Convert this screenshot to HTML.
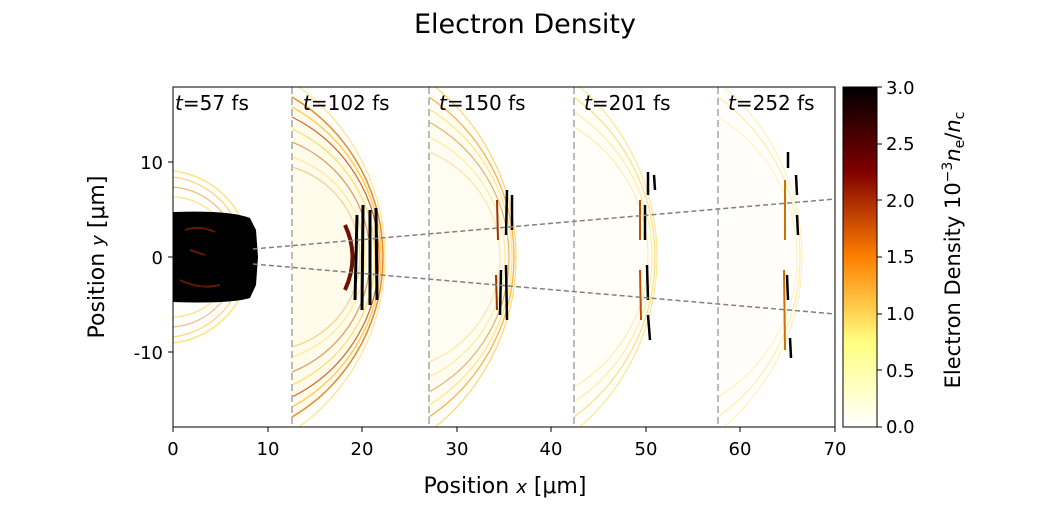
<!DOCTYPE html>
<html><head><meta charset="utf-8"><style>
body{margin:0;background:#fff;}
svg text{font-family:"DejaVu Sans","Liberation Sans",sans-serif;}
</style></head><body>
<svg id="s" width="1050" height="525" viewBox="0 0 1050 525" xmlns="http://www.w3.org/2000/svg">
<defs>
<linearGradient id="cb" x1="0" y1="1" x2="0" y2="0">
<stop offset="0" stop-color="#ffffff"/>
<stop offset="0.25" stop-color="#ffff80"/>
<stop offset="0.5" stop-color="#ff8000"/>
<stop offset="0.75" stop-color="#800000"/>
<stop offset="1" stop-color="#000000"/>
</linearGradient>
<clipPath id="pa"><rect x="173" y="87" width="662" height="340"/></clipPath>
</defs>
<text x="525" y="33" font-size="27" text-anchor="middle">Electron Density</text>
<g id="arcs" clip-path="url(#pa)"></g>
<g clip-path="url(#pa)">
<path d="M173,212 Q230,210 250,218 L256,230 L258,257 L256,285 L250,298 Q230,304 173,302 Z" fill="#000"/>
<g stroke="#7a2000" stroke-width="2" fill="none" opacity="0.8">
<path d="M185,230 Q200,225 215,232"/><path d="M180,280 Q200,290 220,285"/><path d="M190,250 L205,255"/>
</g>
<g stroke="#000" stroke-width="3">
<path d="M357,215 L355,300"/><path d="M363,205 L362,310"/><path d="M370,210 L370,305"/><path d="M376,208 L377,300"/>
</g>
<path d="M345,225 Q360,257 345,290" stroke="#701000" stroke-width="4" fill="none"/>
<g stroke="#000" stroke-width="2.5">
<path d="M507,190 L506,235"/><path d="M512,195 L512,230"/><path d="M506,265 L507,320"/><path d="M501,270 L500,315"/>
</g>
<path d="M497,200 L498,240 M496,275 L497,310" stroke="#a03000" stroke-width="2"/>
<g stroke="#000" stroke-width="2.5">
<path d="M648,172 L648,195"/><path d="M654,175 L655,190"/><path d="M645,205 L645,240"/><path d="M647,265 L648,300"/><path d="M648,315 L650,340"/>
</g>
<path d="M640,200 L640,240 M640,270 L641,320" stroke="#c05000" stroke-width="2"/>
<g stroke="#000" stroke-width="2.5">
<path d="M788,152 L788,168"/><path d="M796,175 L797,195"/><path d="M797,215 L798,235"/><path d="M787,275 L788,300"/><path d="M790,338 L791,358"/>
</g>
<path d="M785,180 L785,240 M784,270 L785,350" stroke="#d07000" stroke-width="2"/>
</g>
<g stroke="#bbb" stroke-width="2" stroke-dasharray="7,4">
<line x1="292" y1="87" x2="292" y2="427"/>
<line x1="429" y1="87" x2="429" y2="427"/>
<line x1="574" y1="87" x2="574" y2="427"/>
<line x1="718" y1="87" x2="718" y2="427"/>
</g>
<g stroke="#808080" stroke-width="1.5" stroke-dasharray="5,3">
<line x1="253" y1="249" x2="835" y2="199"/>
<line x1="253" y1="264" x2="835" y2="314"/>
</g>
<rect x="173" y="87" width="662" height="340" fill="none" stroke="#000" stroke-width="1"/>
<g font-size="20">
<text x="175" y="110"><tspan font-style="italic">t</tspan>=57 fs</text>
<text x="303" y="110"><tspan font-style="italic">t</tspan>=102 fs</text>
<text x="439" y="110"><tspan font-style="italic">t</tspan>=150 fs</text>
<text x="584" y="110"><tspan font-style="italic">t</tspan>=201 fs</text>
<text x="728" y="110"><tspan font-style="italic">t</tspan>=252 fs</text>
</g>
<g stroke="#000">
<line x1="173" y1="427" x2="173" y2="432"/><line x1="268" y1="427" x2="268" y2="432"/>
<line x1="362" y1="427" x2="362" y2="432"/><line x1="457" y1="427" x2="457" y2="432"/>
<line x1="551" y1="427" x2="551" y2="432"/><line x1="646" y1="427" x2="646" y2="432"/>
<line x1="740" y1="427" x2="740" y2="432"/><line x1="835" y1="427" x2="835" y2="432"/>
<line x1="168" y1="162" x2="173" y2="162"/><line x1="168" y1="257" x2="173" y2="257"/><line x1="168" y1="352" x2="173" y2="352"/>
</g>
<g font-size="18" text-anchor="middle">
<text x="173" y="455">0</text><text x="268" y="455">10</text><text x="362" y="455">20</text>
<text x="457" y="455">30</text><text x="551" y="455">40</text><text x="646" y="455">50</text>
<text x="740" y="455">60</text><text x="835" y="455">70</text>
</g>
<g font-size="18" text-anchor="end">
<text x="163" y="169">10</text><text x="163" y="264">0</text><text x="163" y="359">-10</text>
</g>
<text x="505" y="493" font-size="22" text-anchor="middle">Position <tspan font-style="italic" font-size="18">x</tspan> [μm]</text>
<text transform="translate(104,257) rotate(-90)" font-size="22" text-anchor="middle">Position <tspan font-style="italic" font-size="18">y</tspan> [μm]</text>
<rect x="843" y="87" width="34" height="340" fill="url(#cb)" stroke="#000" stroke-width="1"/>
<g stroke="#000">
<line x1="877" y1="87" x2="882" y2="87"/><line x1="877" y1="144" x2="882" y2="144"/>
<line x1="877" y1="200" x2="882" y2="200"/><line x1="877" y1="257" x2="882" y2="257"/>
<line x1="877" y1="314" x2="882" y2="314"/><line x1="877" y1="370" x2="882" y2="370"/>
<line x1="877" y1="427" x2="882" y2="427"/>
</g>
<g font-size="18">
<text x="886" y="94">3.0</text><text x="886" y="150">2.5</text><text x="886" y="207">2.0</text>
<text x="886" y="263">1.5</text><text x="886" y="320">1.0</text><text x="886" y="377">0.5</text>
<text x="886" y="433">0.0</text>
</g>
<text transform="translate(960,250) rotate(-90)" font-size="21" text-anchor="middle">Electron Density 10<tspan font-size="14" dy="-8">−3</tspan><tspan dy="8" font-style="italic">n</tspan><tspan font-size="14" dy="4">e</tspan><tspan dy="-4">/</tspan><tspan font-style="italic">n</tspan><tspan font-size="14" dy="4">c</tspan></text>
</svg>
<script>
(function(){
var g=document.getElementById('arcs'),ns='http://www.w3.org/2000/svg';
function arc(x0,xf,h,col,w,op,fill){
  var a=xf-x0,d=(a*a+h*h)/(2*a);
  var p=document.createElementNS(ns,'path');
  p.setAttribute('d','M'+x0+','+(257-h)+' A'+d+','+d+' 0 0 1 '+x0+','+(257+h)+(fill?' Z':''));
  p.setAttribute('fill',fill||'none');p.setAttribute('stroke',fill?'none':col);
  p.setAttribute('stroke-width',w);p.setAttribute('opacity',op);g.appendChild(p);
}
arc(292,382,165,'',0,0.3,'#fff4c0');
arc(429,515,165,'',0,0.2,'#fff4c0');
arc(574,655,165,'',0,0.12,'#fff4c0');
arc(718,800,165,'',0,0.08,'#fff4c0');
arc(173,250,86,'#ffe070',1.5,0.9);arc(173,244,80,'#ffc850',1.2,0.8);
arc(173,238,70,'#e8a040',1.2,0.7);arc(173,232,60,'#ffe080',1.5,0.8);
var s2=[[385,175,'#ffe070',1.3,0.8],[383,160,'#e08020',1.5,0.9],[381,150,'#ffc040',1.5,0.8],[379,140,'#c04000',1.2,0.8],[375,128,'#ffd860',1.5,0.8],[370,115,'#d07020',1.2,0.7],[365,100,'#ffe890',1.5,0.8],[360,90,'#f0b040',1.2,0.6]];
s2.forEach(function(a){arc(292,a[0],a[1],a[2],a[3],a[4]);});
var s3=[[516,175,'#ffd050',1.3,0.8],[514,160,'#f0a030',1.3,0.8],[512,148,'#ffe070',1.3,0.8],[509,135,'#e09030',1.2,0.7],[505,120,'#ffe890',1.3,0.8],[500,105,'#ffd060',1.1,0.6]];
s3.forEach(function(a){arc(429,a[0],a[1],a[2],a[3],a[4]);});
var s4=[[657,175,'#ffe070',1.2,0.8],[655,160,'#ffd050',1.2,0.7],[652,145,'#ffe890',1.2,0.8],[648,130,'#ffd870',1.0,0.6]];
s4.forEach(function(a){arc(574,a[0],a[1],a[2],a[3],a[4]);});
var s5=[[802,175,'#ffe890',1.1,0.7],[800,160,'#ffe070',1.1,0.6],[797,140,'#ffe890',1.0,0.6]];
s5.forEach(function(a){arc(718,a[0],a[1],a[2],a[3],a[4]);});
})();
</script>
</body></html>
